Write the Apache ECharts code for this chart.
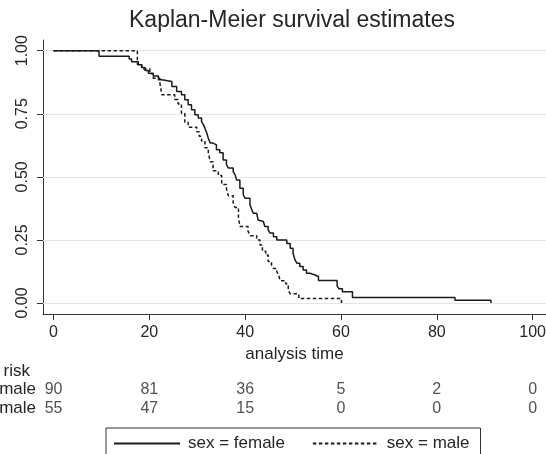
<!DOCTYPE html>
<html><head><meta charset="utf-8">
<script src="https://cdn.jsdelivr.net/npm/echarts@6/dist/echarts.min.js"></script>
<style>html,body{margin:0;padding:0;background:#fff}#c{width:546px;height:454px}</style>
</head><body><div id="c"></div>
<script>
const titleText = 'Kaplan-Meier survival estimates';
const xAxisName = 'analysis time';
const xTicks = [0, 20, 40, 60, 80, 100];
const yTicks = [0, 0.25, 0.5, 0.75, 1];
const seriesNames = ['sex = female', 'sex = male'];
const female = [
  [0,1],[9.5,0.978],[15.8,0.967],[16.3,0.956],[17.7,0.944],[18.4,0.933],[19.1,0.922],[19.8,0.911],
  [20.8,0.900],[21.9,0.885],[22.6,0.878],[24.7,0.858],[25.7,0.838],[26.7,0.825],[27.4,0.806],
  [28.1,0.786],[28.8,0.766],[29.5,0.746],[30.2,0.733],[30.9,0.719],[31.3,0.706],[31.6,0.693],
  [32.0,0.673],[32.3,0.654],[32.7,0.634],[33.3,0.627],[34.0,0.607],[34.7,0.596],[35.4,0.567],
  [36.1,0.548],[36.5,0.535],[37.5,0.521],[37.9,0.508],[38.2,0.488],[38.9,0.455],[39.6,0.429],
  [40.0,0.415],[41.0,0.389],[41.4,0.369],[41.7,0.356],[42.4,0.349],[42.7,0.329],[43.1,0.323],
  [43.8,0.316],[44.1,0.303],[44.8,0.290],[45.2,0.277],[45.9,0.263],[46.6,0.250],[48.7,0.236],
  [49.4,0.217],[50.0,0.197],[50.4,0.171],[50.8,0.158],[51.4,0.145],[52.1,0.131],[52.8,0.118],
  [53.5,0.111],[54.6,0.104],[55.3,0.089],[59.2,0.067],[59.6,0.056],[60.3,0.045],[62.4,0.022],
  [83.8,0.011],[91.3,0]
];
const male = [
  [0,1],[17.5,0.945],[18.4,0.927],[20.1,0.909],[20.8,0.891],[22.2,0.873],[22.6,0.825],
  [25.3,0.807],[26.0,0.789],[26.7,0.752],[27.4,0.716],[28.1,0.697],[29.9,0.679],[30.4,0.661],
  [30.9,0.642],[31.6,0.615],[32.3,0.597],[32.7,0.560],[33.3,0.524],[34.4,0.505],[35.1,0.470],
  [36.1,0.452],[36.5,0.425],[37.5,0.397],[37.9,0.379],[38.6,0.342],[38.9,0.303],[40.6,0.285],
  [41.0,0.267],[42.4,0.250],[43.1,0.230],[43.6,0.205],[44.3,0.190],[44.8,0.164],[45.5,0.150],
  [45.9,0.137],[46.6,0.124],[47.0,0.111],[47.3,0.088],[48.5,0.075],[49.0,0.050],[49.4,0.037],
  [51.2,0.018],[60.1,0]
];
const riskRows = ['Number at risk', 'sex = female', 'sex = male'];
const riskFemale = [90, 81, 36, 5, 2, 0];
const riskMale = [55, 47, 15, 0, 0, 0];

const FONT = '"Liberation Sans", Arial, sans-serif';
const INK = '#262626';
const chart = echarts.init(document.getElementById('c'), null, {renderer: 'canvas'});

const riskData = [];
riskFemale.forEach((v, i) => riskData.push([xTicks[i], riskRows[1], v]));
riskMale.forEach((v, i) => riskData.push([xTicks[i], riskRows[2], v]));

chart.setOption({
  animation: false,
  backgroundColor: '#fff',
  graphic: [{
    type: 'text', left: 129, top: 9,
    style: {text: titleText, fill: INK, font: '23px ' + FONT}
  }],
  legend: {
    data: seriesNames,
    left: 106, top: 428,
    orient: 'horizontal',
    itemWidth: 66, itemHeight: 12, itemGap: 27,
    padding: [7, 11, 20, 7],
    borderColor: '#333', borderWidth: 1, borderRadius: 0,
    backgroundColor: '#fff',
    itemStyle: {opacity: 0},
    textStyle: {fontSize: 17, fontFamily: FONT, color: INK, padding: [0, 0, 0, 3]}
  },
  grid: [
    {left: 43, right: 0, top: 40, bottom: 140, containLabel: false, outerBoundsMode: 'none'},
    {left: 43, right: 0, top: 362, height: 55.5, containLabel: false, outerBoundsMode: 'none'}
  ],
  xAxis: [{
    type: 'value', gridIndex: 0, min: -2.2, max: 102.8,
    name: xAxisName, nameLocation: 'middle', nameGap: 30,
    nameTextStyle: {fontSize: 17, fontFamily: FONT, color: INK},
    axisLine: {show: true, onZero: false, lineStyle: {color: '#333', width: 1}},
    axisTick: {show: true, inside: false, length: 6, customValues: xTicks, lineStyle: {color: '#333'}},
    axisLabel: {show: true, customValues: xTicks, margin: 11, fontSize: 16, fontFamily: FONT, color: INK,
      showMinLabel: true, showMaxLabel: true},
    splitLine: {show: false}
  }, {
    type: 'value', gridIndex: 1, min: -2.2, max: 102.8, show: false
  }],
  yAxis: [{
    type: 'value', gridIndex: 0, min: -0.0436, max: 1.0424,
    axisLine: {show: true, onZero: false, lineStyle: {color: '#333', width: 1}},
    axisTick: {show: true, inside: false, length: 6, customValues: yTicks, lineStyle: {color: '#333'}},
    axisLabel: {show: true, customValues: yTicks, rotate: 90, margin: 12, fontSize: 16, fontFamily: FONT, color: INK,
      formatter: v => v.toFixed(2)},
    splitLine: {show: false}
  }, {
    type: 'category', gridIndex: 1, data: riskRows, inverse: true,
    axisLine: {show: false}, axisTick: {show: false}, splitLine: {show: false},
    axisLabel: {show: true, interval: 0, margin: 7, fontSize: 17, fontFamily: FONT, color: INK,
      hideOverlap: false,
      formatter: v => v === riskRows[0] ? '{h|' + v + '}' : v,
      rich: {h: {fontSize: 17, fontFamily: FONT, color: INK, padding: [0, 6, 0, 0]}}}
  }],
  series: [{
    name: seriesNames[0], type: 'line', xAxisIndex: 0, yAxisIndex: 0,
    data: female, step: 'end', symbol: 'none', z: 3,
    lineStyle: {color: '#1a1a1a', width: 1.5, type: 'solid'},
    itemStyle: {color: '#1a1a1a'},
    markLine: {
      silent: true, symbol: 'none', z: 1, animation: false,
      label: {show: false},
      lineStyle: {color: '#e4e4e4', width: 1, type: 'solid'},
      data: yTicks.map(v => ({yAxis: v}))
    }
  }, {
    name: seriesNames[1], type: 'line', xAxisIndex: 0, yAxisIndex: 0,
    data: male, step: 'end', symbol: 'none', z: 4,
    lineStyle: {color: '#1a1a1a', width: 1.5, type: [3.5, 2.5]},
    itemStyle: {color: '#1a1a1a'}
  }, {
    name: 'risk', type: 'scatter', xAxisIndex: 1, yAxisIndex: 1,
    data: riskData, symbolSize: 1,
    itemStyle: {color: 'rgba(0,0,0,0)'},
    label: {show: true, position: 'inside', formatter: p => String(p.value[2]),
      fontSize: 16, fontFamily: FONT, color: INK},
    silent: true
  }]
});
</script>
</body></html>
